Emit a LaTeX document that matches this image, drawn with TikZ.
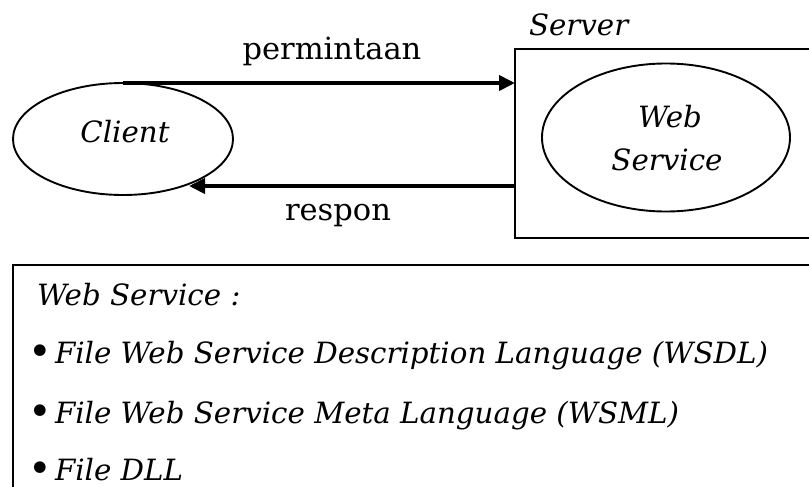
\documentclass[tikz,border=0pt]{standalone}
\usepackage{fontspec}
\setmainfont{DejaVu Serif}
\usetikzlibrary{shapes.geometric,arrows.meta}
\begin{document}
\begin{tikzpicture}[x=1pt,y=-1pt,
  every node/.style={inner sep=0pt, outer sep=0pt},
  lbl/.style={font=\fontsize{30.5}{36}\selectfont},
  ilbl/.style={font=\fontsize{29.3}{35}\selectfont\itshape},
  dotlbl/.style={font=\fontsize{40}{40}\selectfont},
  oval/.style={draw, ellipse, line width=1.9pt},
  frame/.style={draw, rectangle, line width=2.3pt},
  flow/.style={line width=3.8pt, -{Triangle[length=16pt,width=15pt]}}
]
\clip (0,0) rectangle (809,487);

% client side
\node[oval, minimum width=220pt, minimum height=112pt] (cli) at (123,139) {};
\node[ilbl, anchor=base] (clitxt) at (125,142) {Client};

% server box with the web service inside
\node[frame, anchor=north west, minimum width=310pt, minimum height=189pt] (srv) at (515,49) {};
\node[ilbl, anchor=base west] (srvlbl) at (529,36) {Server};
\node[oval, minimum width=248pt, minimum height=148pt] (ws) at (666,137.5) {};
\node[ilbl, anchor=base] (wstxt1) at (670,128) {Web};
\node[ilbl, anchor=base] (wstxt2) at (667,170) {Service};

% request and response
\draw[flow] (cli.north) -- (cli.north -| srv.west);
\node[lbl, anchor=base] (req) at (332,60) {permintaan};
\coordinate (back) at (189,186);
\draw[flow] (srv.west |- back) -- (back);
\node[lbl, anchor=base] (resp) at (338,220) {respon};

% list of web service files
\node[frame, anchor=north west, minimum width=820pt, minimum height=240pt] (list) at (13,265) {};
\node[ilbl, anchor=base west] (head) at (37,305) {Web Service :};
\node[dotlbl, anchor=center] (dot1) at (40,355) {\textbullet};
\node[ilbl, anchor=base west] (item1) at (55,363) {File Web Service Description Language (WSDL)};
\node[dotlbl, anchor=center] (dot2) at (40,415) {\textbullet};
\node[ilbl, anchor=base west] (item2) at (55,423) {File Web Service Meta Language (WSML)};
\node[dotlbl, anchor=center] (dot3) at (40,472) {\textbullet};
\node[ilbl, anchor=base west] (item3) at (55,480) {File DLL};
\end{tikzpicture}
\end{document}
